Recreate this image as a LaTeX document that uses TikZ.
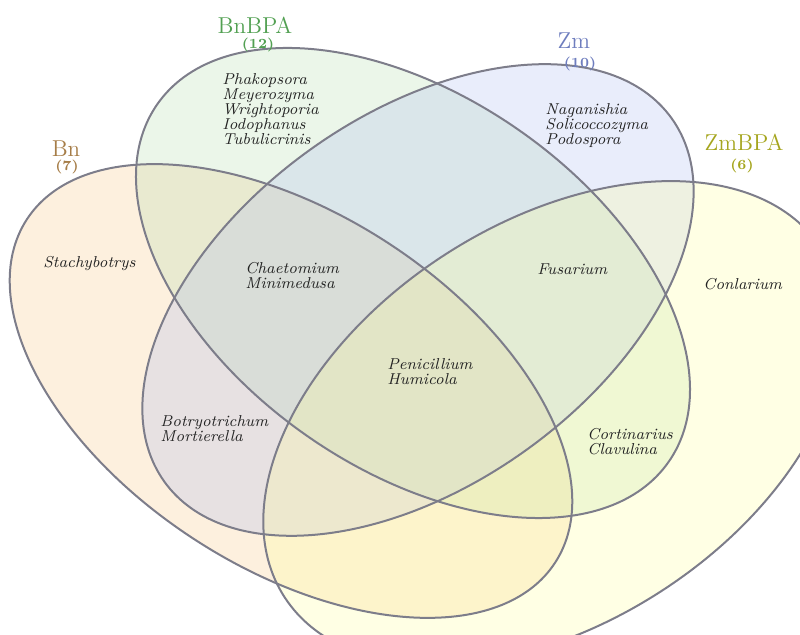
\documentclass[tikz,border=0pt]{standalone}
\usetikzlibrary{shapes.geometric}

\definecolor{bnfill}{RGB}{247,195,123}
\definecolor{bnbpafill}{RGB}{175,219,167}
\definecolor{zmfill}{RGB}{168,182,240}
\definecolor{zmbpafill}{RGB}{255,255,147}
\definecolor{linegrey}{RGB}{125,125,138}
\definecolor{genustext}{RGB}{35,35,35}
\definecolor{bnlabel}{RGB}{166,125,72}
\definecolor{bnbpalabel}{RGB}{82,160,82}
\definecolor{zmlabel}{RGB}{110,125,190}
\definecolor{zmbpalabel}{RGB}{165,165,30}

\tikzset{
  setfill/.style={ellipse, inner sep=0pt, outer sep=0pt, fill opacity=0.25},
  setline/.style={ellipse, inner sep=0pt, outer sep=0pt, draw=linegrey, line width=1pt},
  bnshape/.style={minimum width=315pt, minimum height=177pt, rotate=-33},
  bnbpashape/.style={minimum width=312pt, minimum height=186pt, rotate=-35},
  zmshape/.style={minimum width=312pt, minimum height=185pt, rotate=35.6},
  zmbpashape/.style={minimum width=320pt, minimum height=200pt, rotate=33},
  genus/.style={anchor=north west, align=left, inner sep=0pt, text=genustext,
    font=\fontsize{7.9}{7.5}\selectfont\itshape},
  setname/.style={inner sep=0pt, font=\fontsize{11.5}{12}\selectfont},
  setcount/.style={inner sep=0pt, font=\fontsize{7}{8}\selectfont\bfseries},
}

\begin{document}
\begin{tikzpicture}[x=0.5pt, y=-0.5pt]
	\useasboundingbox (0, 0) rectangle (800, 635);

	% set fills
	\draw (291, 391) 	node[setfill, bnshape, fill=bnfill] 		(bn) 		{};
	\draw (413, 283) 	node[setfill, bnbpashape, fill=bnbpafill] 	(bnbpa) 	{};
	\draw (418, 300) 	node[setfill, zmshape, fill=zmfill] 		(zm) 		{};
	\draw (553, 423) 	node[setfill, zmbpashape, fill=zmbpafill] 	(zmbpa) 	{};

	% set outlines
	\draw (bn.center) 	node[setline, bnshape] 		(bn_edge) 		{};
	\draw (bnbpa.center) 	node[setline, bnbpashape] 	(bnbpa_edge) 	{};
	\draw (zm.center) 	node[setline, zmshape] 		(zm_edge) 		{};
	\draw (zmbpa.center) 	node[setline, zmbpashape] 	(zmbpa_edge) 	{};

	% set names and counts
	\draw (66, 149) 	node[setname, text=bnlabel] 		(bn_name) 		{Bn};
	\draw (67, 167) 	node[setcount, text=bnlabel] 		(bn_count) 		{(7)};
	\draw (255, 25) 	node[setname, text=bnbpalabel] 		(bnbpa_name) 	{BnBPA};
	\draw (258, 45) 	node[setcount, text=bnbpalabel] 	(bnbpa_count) 	{(12)};
	\draw (574, 41) 	node[setname, text=zmlabel] 		(zm_name) 		{Zm};
	\draw (580, 64) 	node[setcount, text=zmlabel] 		(zm_count) 		{(10)};
	\draw (744, 142) 	node[setname, text=zmbpalabel] 		(zmbpa_name) 	{ZmBPA};
	\draw (742, 166) 	node[setcount, text=zmbpalabel] 	(zmbpa_count) 	{(6)};

	% genera in each region
	\draw (222, 73) 	node[genus] 	(bnbpa_only) 	{Phakopsora\\Meyerozyma\\Wrightoporia\\Iodophanus\\Tubulicrinis};
	\draw (545, 103) 	node[genus] 	(zm_only) 		{Naganishia\\Solicoccozyma\\Podospora};
	\draw (43, 256) 	node[genus] 	(bn_only) 		{Stachybotrys};
	\draw (245, 262) 	node[genus] 	(bn_bnbpa_zm) 	{Chaetomium\\Minimedusa};
	\draw (537, 263) 	node[genus] 	(bnbpa_zm_zmbpa) {Fusarium};
	\draw (703, 278) 	node[genus] 	(zmbpa_only) 	{Conlarium};
	\draw (387, 358) 	node[genus] 	(all_four) 		{Penicillium\\Humicola};
	\draw (160, 415) 	node[genus] 	(bn_zm) 		{Botryotrichum\\Mortierella};
	\draw (587, 428) 	node[genus] 	(bnbpa_zmbpa) 	{Cortinarius\\Clavulina};
\end{tikzpicture}
\end{document}
